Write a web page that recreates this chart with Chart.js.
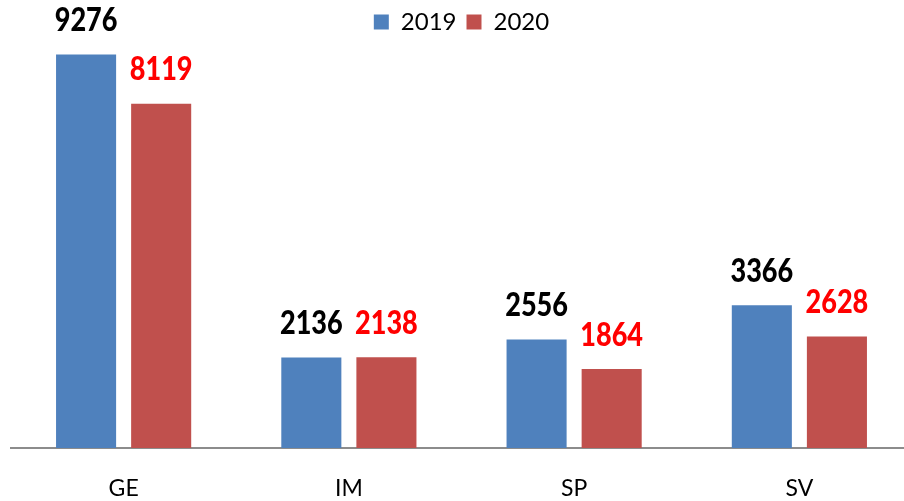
<!DOCTYPE html>
<html>
<head>
<meta charset="utf-8">
<script src="https://cdn.jsdelivr.net/npm/chart.js@4"></script>
<style>
  html, body { margin: 0; padding: 0; background: #fff; overflow: hidden; }
  #wrap { width: 912px; height: 501px; }
</style>
</head>
<body>
<div id="wrap"><canvas id="chart" width="912" height="501"></canvas></div>
<script>
const categories = ['GE', 'IM', 'SP', 'SV'];
const values2019 = [9276, 2136, 2556, 3366];
const values2020 = [8119, 2138, 1864, 2628];
const seriesNames = ['2019', '2020'];

// disegna i valori sopra le barre
const valueLabels = {
  id: 'valueLabels',
  afterDatasetsDraw(chart) {
    const ctx = chart.ctx;
    const colors = ['#000000', '#ff0000'];
    chart.data.datasets.forEach((ds, i) => {
      const meta = chart.getDatasetMeta(i);
      meta.data.forEach((bar, j) => {
        ctx.save();
        ctx.translate(bar.x, bar.y - 34);
        ctx.scale(0.82, 1);
        ctx.font = '900 33px Lato';
        ctx.fillStyle = colors[i];
        ctx.textAlign = 'center';
        ctx.textBaseline = 'middle';
        ctx.fillText(String(ds.data[j]), 0, 0);
        ctx.restore();
      });
    });
  }
};

new Chart(document.getElementById('chart'), {
  type: 'bar',
  data: {
    labels: categories,
    datasets: [
      { label: seriesNames[0], data: values2019, backgroundColor: '#4f81bd' },
      { label: seriesNames[1], data: values2020, backgroundColor: '#c0504d' }
    ]
  },
  options: {
    responsive: false,
    animation: false,
    categoryPercentage: 150 / 225,
    barPercentage: 0.8,
    layout: { padding: { left: 11, right: 0, top: 0, bottom: 0 } },
    plugins: {
      legend: {
        position: 'top',
        labels: {
          font: { family: 'Lato', size: 24 },
          color: '#000',
          boxWidth: 15,
          boxHeight: 15,
          padding: 10
        }
      },
      tooltip: { enabled: false }
    },
    scales: {
      x: {
        grid: { display: false, drawTicks: false },
        border: { color: '#8c8c8c', width: 2 },
        ticks: { font: { family: 'Lato', size: 23 }, color: '#000', padding: 27 },
        afterFit(scale) { scale.height = 53; }
      },
      y: {
        display: false,
        min: 0,
        max: 9525
      }
    }
  },
  plugins: [valueLabels]
});
</script>
</body>
</html>
